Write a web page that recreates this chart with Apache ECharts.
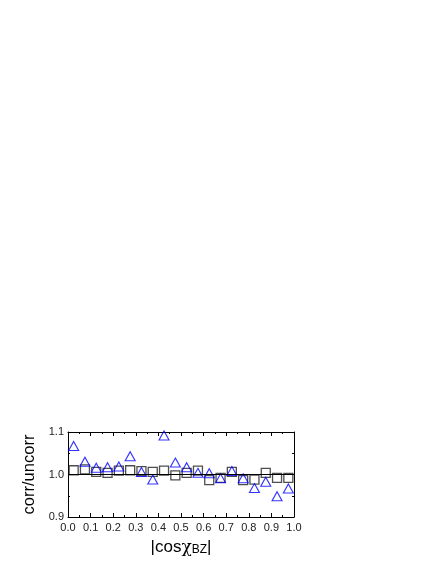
<!DOCTYPE html>
<html>
<head>
<meta charset="utf-8">
<script src="https://cdn.jsdelivr.net/npm/echarts@6/dist/echarts.min.js"></script>
<style>
  html, body { margin: 0; padding: 0; background: #fff; }
  #chart { width: 436px; height: 564px; }
</style>
</head>
<body>
<div id="chart"></div>
<script>
// bin centres of |cos chi_BZ|
var binCenters = [0.025, 0.075, 0.125, 0.175, 0.225, 0.275, 0.325, 0.375, 0.425, 0.475,
                  0.525, 0.575, 0.625, 0.675, 0.725, 0.775, 0.825, 0.875, 0.925, 0.975];
// squares (black)
var squareVals = [1.010, 1.012, 1.006, 1.004, 1.009, 1.010, 1.008, 1.006, 1.009, 0.998,
                  1.004, 1.009, 0.987, 0.992, 1.006, 0.987, 0.988, 1.004, 0.992, 0.992];
// triangles (blue)
var triangleVals = [1.067, 1.030, 1.016, 1.017, 1.019, 1.043, 1.006, 0.988, 1.092, 1.028,
                    1.017, 1.004, 1.003, 0.991, 1.008, 0.991, 0.968, 0.983, 0.949, 0.967];
var refLine = [[0, 1.0], [1, 1.0]];

function pairs(xs, ys) {
  return xs.map(function (x, i) { return [x, ys[i]] })
}

var font = 'Liberation Sans, Arial, sans-serif'
var tickStyle = { show: true, inside: true, length: 4, lineStyle: { color: '#000', width: 1 } }
var minorStyle = { show: true, splitNumber: 2, length: 2, lineStyle: { color: '#000', width: 1 } }
var lineStyle = { show: true, onZero: false, lineStyle: { color: '#000', width: 1 } }

var myChart = echarts.init(document.getElementById('chart'))
myChart.setOption({
  animation: false,
  grid: { left: 68, right: 142, top: 432, bottom: 47 },
  xAxis: [
    {
      type: 'value', min: 0, max: 1, interval: 0.1, position: 'bottom',
      axisLine: lineStyle, axisTick: tickStyle, minorTick: minorStyle,
      splitLine: { show: false },
      axisLabel: { color: '#222', fontSize: 11, fontFamily: font, margin: 5,
        formatter: function (v) { return v.toFixed(1) } },
      name: '|cos{c|χ}{s|BZ}|', nameLocation: 'middle', nameGap: 22,
      nameTextStyle: { fontSize: 17, fontFamily: font, color: '#000',
        rich: {
          c: { fontSize: 17, fontFamily: 'DejaVu Serif, serif' },
          s: { fontSize: 12, fontFamily: font, padding: [4, 0, 0, 0] }
        } }
    },
    {
      type: 'value', min: 0, max: 1, interval: 0.1, position: 'top',
      axisLine: lineStyle, axisTick: tickStyle, minorTick: minorStyle,
      splitLine: { show: false }, axisLabel: { show: false }
    }
  ],
  yAxis: [
    {
      type: 'value', min: 0.9, max: 1.1, interval: 0.1, position: 'left',
      axisLine: lineStyle, axisTick: tickStyle, minorTick: minorStyle,
      splitLine: { show: false },
      axisLabel: { color: '#222', fontSize: 11, fontFamily: font, margin: 4,
        formatter: function (v) { return v.toFixed(1) } },
      name: 'corr/uncorr', nameLocation: 'middle', nameGap: 30, nameRotate: 90,
      nameTextStyle: { fontSize: 16.5, fontFamily: font, color: '#000' }
    },
    {
      type: 'value', min: 0.9, max: 1.1, interval: 0.1, position: 'right',
      axisLine: lineStyle, axisTick: tickStyle, minorTick: minorStyle,
      splitLine: { show: false }, axisLabel: { show: false }
    }
  ],
  series: [
    {
      type: 'line', data: refLine, symbol: 'none', silent: true,
      lineStyle: { color: '#000', width: 1.2 }
    },
    {
      type: 'scatter', data: pairs(binCenters, squareVals),
      symbol: 'rect', symbolSize: 9,
      itemStyle: { color: 'transparent', borderColor: '#222', borderWidth: 1.3 }
    },
    {
      type: 'scatter', data: pairs(binCenters, triangleVals),
      symbol: 'triangle', symbolSize: [10, 9],
      itemStyle: { color: 'transparent', borderColor: '#0000ff', borderWidth: 1.1 }
    }
  ]
})
</script>
</body>
</html>
